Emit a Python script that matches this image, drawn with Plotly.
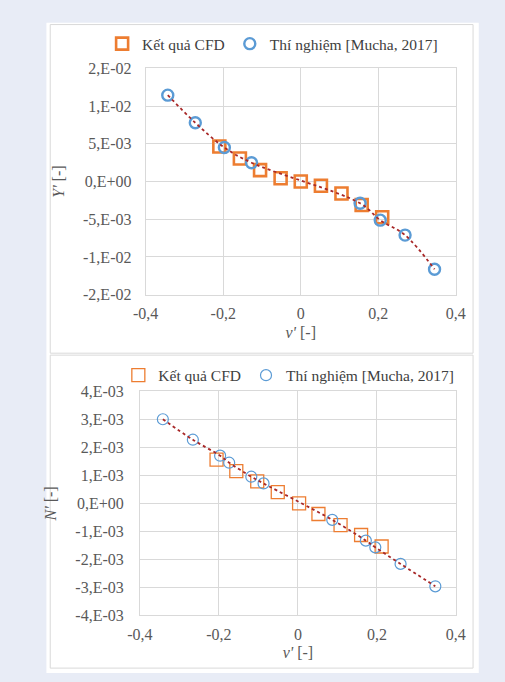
import plotly.graph_objects as go

# ---- data ----
# Top chart: Y' vs v'
cfd_v_top = [-0.21, -0.157, -0.105, -0.052, 0.0, 0.052, 0.105, 0.157, 0.21]
cfd_Y = [0.00465, 0.00306, 0.00151, 0.00044, 0.0, -0.00055, -0.00159, -0.0031, -0.00473]
exp_v_top = [-0.343, -0.272, -0.197, -0.127, 0.153, 0.205, 0.269, 0.345]
exp_Y = [0.01146, 0.0078, 0.00452, 0.0025, -0.00288, -0.00512, -0.0071, -0.01163]

# Bottom chart: N' vs v'
cfd_v_bot = [-0.206, -0.156, -0.103, -0.051, 0.003, 0.052, 0.108, 0.16, 0.212]
cfd_N = [0.00156, 0.00115, 0.00078, 0.0004, 0.0, -0.00038, -0.00078, -0.00113, -0.00154]
exp_v_bot = [-0.342, -0.266, -0.197, -0.174, -0.118, -0.087, 0.087, 0.172, 0.196, 0.26, 0.348]
exp_N = [0.003, 0.00227, 0.0017, 0.00145, 0.00095, 0.00071, -0.00059, -0.00133, -0.00157, -0.00216, -0.00296]

x_ticks = [-0.4, -0.2, 0.0, 0.2, 0.4]
x_ticktext = ["-0,4", "-0,2", "0", "0,2", "0,4"]
y_top_ticks = [-0.015, -0.01, -0.005, 0.0, 0.005, 0.01, 0.015]
y_top_ticktext = ["-2,E-02", "-1,E-02", "-5,E-03", "0,E+00", "5,E-03", "1,E-02", "2,E-02"]
y_bot_ticks = [-0.004, -0.003, -0.002, -0.001, 0.0, 0.001, 0.002, 0.003, 0.004]
y_bot_ticktext = ["-4,E-03", "-3,E-03", "-2,E-03", "-1,E-03", "0,E+00",
                  "1,E-03", "2,E-03", "3,E-03", "4,E-03"]

name_cfd = "Kết quả CFD"
name_exp = "Thí nghiệm [Mucha, 2017]"

# ---- styling ----
W, H = 505, 682
FONT = "'Liberation Serif', 'Times New Roman', serif"
ORANGE = "#ED7D31"
BLUE = "#5B9BD5"
TREND = "#A82828"
GRID = "#D9D9D9"
TXT = "#595959"
BG = "#E8ECF6"

fig = go.Figure()

def px_x(p):
    return p / W

def px_y(p):
    return 1 - p / H

# top chart traces
fig.add_trace(go.Scatter(x=cfd_v_top, y=cfd_Y, mode="markers", name=name_cfd,
                         marker=dict(symbol="square-open", size=12, color=ORANGE,
                                     line=dict(width=2.6, color=ORANGE)),
                         xaxis="x", yaxis="y", legend="legend"))
fig.add_trace(go.Scatter(x=exp_v_top, y=exp_Y, mode="markers", name=name_exp,
                         marker=dict(symbol="circle-open", size=11, color=BLUE,
                                     line=dict(width=2.4, color=BLUE)),
                         xaxis="x", yaxis="y", legend="legend"))
fig.add_trace(go.Scatter(x=exp_v_top, y=exp_Y, mode="lines", showlegend=False,
                         line=dict(color=TREND, width=1.8, dash="dot", shape="spline"),
                         hoverinfo="skip", xaxis="x", yaxis="y"))

# bottom chart traces
fig.add_trace(go.Scatter(x=cfd_v_bot, y=cfd_N, mode="markers", name=name_cfd,
                         marker=dict(symbol="square-open", size=13, color=ORANGE,
                                     line=dict(width=1.3, color=ORANGE)),
                         xaxis="x2", yaxis="y2", legend="legend2"))
fig.add_trace(go.Scatter(x=exp_v_bot, y=exp_N, mode="markers", name=name_exp,
                         marker=dict(symbol="circle-open", size=11, color=BLUE,
                                     line=dict(width=1.2, color=BLUE)),
                         xaxis="x2", yaxis="y2", legend="legend2"))
fig.add_trace(go.Scatter(x=exp_v_bot, y=exp_N, mode="lines", showlegend=False,
                         line=dict(color=TREND, width=1.8, dash="dot", shape="spline"),
                         hoverinfo="skip", xaxis="x2", yaxis="y2"))

axis_common = dict(showgrid=True, gridcolor=GRID, gridwidth=1, zeroline=False,
                   showline=True, linecolor=GRID, linewidth=1, mirror=True,
                   ticks="", tickfont=dict(family=FONT, size=16, color=TXT),
                   title_font=dict(family=FONT, size=16, color=TXT))

fig.update_layout(
    width=W, height=H,
    margin=dict(l=0, r=0, t=0, b=0),
    paper_bgcolor=BG, plot_bgcolor="white",
    font=dict(family=FONT, color=TXT),
    showlegend=True,
    xaxis=dict(domain=[px_x(139), px_x(464)], range=[-0.4, 0.4], tickvals=x_ticks,
               ticktext=x_ticktext, anchor="y", title=dict(text="<i>v'</i> [-]", standoff=5),
               ticklabelstandoff=4, **axis_common),
    yaxis=dict(domain=[px_y(294), px_y(62)], range=[-0.015, 0.015], tickvals=y_top_ticks,
               ticktext=y_top_ticktext, anchor="x", title=dict(text="<i>Y'</i> [-]", standoff=14),
               ticklabelstandoff=10, **axis_common),
    xaxis2=dict(domain=[px_x(133), px_x(464)], range=[-0.4, 0.4], tickvals=x_ticks,
                ticktext=x_ticktext, anchor="y2", title=dict(text="<i>v'</i> [-]", standoff=5),
                ticklabelstandoff=4, **axis_common),
    yaxis2=dict(domain=[px_y(623), px_y(393)], range=[-0.004, 0.004], tickvals=y_bot_ticks,
                ticktext=y_bot_ticktext, anchor="x2", title=dict(text="<i>N'</i> [-]", standoff=14),
                ticklabelstandoff=12, **axis_common),
    legend=dict(orientation="h", x=px_x(272), xanchor="center", y=px_y(37), yanchor="middle",
                font=dict(family=FONT, size=15.5, color="#404040"), bgcolor="rgba(0,0,0,0)",
                itemwidth=30, tracegroupgap=0),
    legend2=dict(orientation="h", x=px_x(289), xanchor="center", y=px_y(377), yanchor="middle",
                 font=dict(family=FONT, size=15.5, color="#404040"), bgcolor="rgba(0,0,0,0)",
                 itemwidth=30, tracegroupgap=0),
    shapes=[
        dict(type="rect", xref="paper", yref="paper", x0=px_x(35), x1=px_x(488),
             y0=0, y1=px_y(15), fillcolor="white", line=dict(width=0), layer="below"),
        dict(type="rect", xref="paper", yref="paper", x0=px_x(39), x1=px_x(482),
             y0=px_y(354), y1=px_y(17), fillcolor="white", line=dict(width=1, color=GRID),
             layer="below"),
        dict(type="rect", xref="paper", yref="paper", x0=px_x(39), x1=px_x(482),
             y0=px_y(677), y1=px_y(356), fillcolor="white", line=dict(width=1, color=GRID),
             layer="below"),
    ],
)

fig.write_html("out.html", config={"displayModeBar": False},
               post_script="document.body.style.margin='0';document.body.style.overflow='hidden';")
